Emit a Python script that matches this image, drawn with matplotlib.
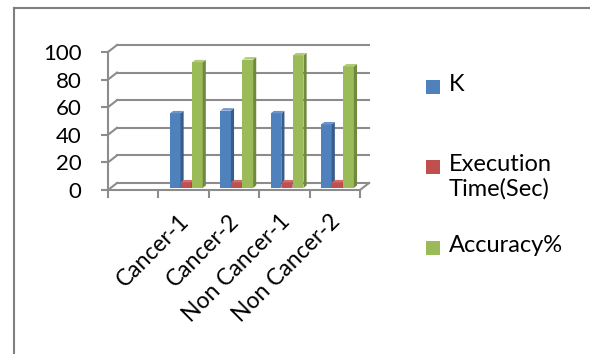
import matplotlib
matplotlib.use("Agg")
import matplotlib.pyplot as plt
from matplotlib.patches import Polygon, Rectangle
from matplotlib.lines import Line2D
import numpy as np

# data (first slot of the category axis is empty in the original)
categories = ["", "Cancer-1", "Cancer-2", "Non Cancer-1", "Non Cancer-2"]
k_vals = [np.nan, 54, 56, 54, 46]
exec_time = [np.nan, 4, 4, 4, 4]
accuracy = [np.nan, 91, 93, 96, 88]
series_names = ["K", "Execution\nTime(Sec)", "Accuracy%"]

front = ["#4F81BD", "#C0504D", "#9BBB59"]
side = ["#385D8A", "#8C3836", "#71893F"]
top = ["#6C95CA", "#CF6E6B", "#B2CB7A"]

plt.rcParams['font.family'] = ['Lato', 'DejaVu Sans']

fig = plt.figure(figsize=(5.9, 3.54), dpi=100)
W, H = 590, 354
# front plane of the 3d box in pixels
x0, x1, y0, y1 = 108, 360, 190, 52
ax = fig.add_axes([x0 / W, 1 - y0 / H, (x1 - x0) / W, (y0 - y1) / H])
n = len(categories)
ax.set_xlim(0, n)
ax.set_ylim(0, 100)

DX = 9 / (x1 - x0) * n      # wall depth in data units
DY = 7 / (y0 - y1) * 100
grid_c = "#8C8C8C"

# back wall grid + side wall diagonals
for v in range(0, 101, 20):
    ax.plot([DX, n + DX], [v + DY, v + DY], color=grid_c, lw=1.5, clip_on=False, zorder=1)
    ax.plot([0, DX], [v, v + DY], color=grid_c, lw=1.5, clip_on=False, zorder=1)
ax.plot([n, n + DX], [0, DY], color=grid_c, lw=1.5, clip_on=False, zorder=1)

# 3d-looking clustered columns
bw = 0.21
bz = 0.3      # bar position in depth (fraction of wall)
bd = 0.35     # bar depth
pos = np.arange(n) + 0.5
for j, vals in enumerate([k_vals, exec_time, accuracy]):
    xs = pos + (j - 1) * 0.22 + bz * DX
    base = bz * DY
    ax.bar(xs, vals, width=bw, bottom=base, color=front[j], edgecolor="none",
           zorder=3, label=series_names[j])
    for xc, v in zip(xs, vals):
        if np.isnan(v):
            continue
        xl, xr = xc - bw / 2, xc + bw / 2
        ddx, ddy = bd * DX, bd * DY
        ax.add_patch(Polygon([[xr, base], [xr + ddx, base + ddy], [xr + ddx, base + v + ddy],
                              [xr, base + v]], closed=True, color=side[j], lw=0,
                             zorder=3, clip_on=False))
        ax.add_patch(Polygon([[xl, base + v], [xr, base + v], [xr + ddx, base + v + ddy],
                              [xl + ddx, base + v + ddy]], closed=True, color=top[j], lw=0,
                             zorder=3, clip_on=False))

# axes styling
for s in ["top", "right"]:
    ax.spines[s].set_visible(False)
for s in ["left", "bottom"]:
    ax.spines[s].set_color(grid_c)
    ax.spines[s].set_linewidth(1.5)
ax.set_yticks(range(0, 101, 20))
ax.tick_params(axis="y", length=5, width=1.5, color=grid_c, pad=14, labelsize=16)
ax.set_xticks(range(0, n + 1))
ax.set_xticklabels([])
ax.tick_params(axis="x", which="major", length=6, width=1.5, color=grid_c)
ax.set_xticks(pos + 0.04, minor=True)
ax.set_xticklabels(categories, minor=True, rotation=45, ha="right", va="center",
                   rotation_mode="anchor", fontsize=16.5)
ax.tick_params(axis="x", which="minor", length=0, pad=20)
ax.set_facecolor("none")

# legend, placed by hand like Excel does
leg_y = [87, 167, 248]
for j, name in enumerate(series_names):
    yc = leg_y[j]
    fig.add_artist(Rectangle((426 / W, 1 - (yc + 7) / H), 14 / W, 14 / H,
                             transform=fig.transFigure, color=front[j], lw=0))
    fig.text(449 / W, 1 - (yc - 13) / H, name, fontsize=17, va="top", ha="left",
             linespacing=1.2)

# chart area border (top and left visible)
fig.add_artist(Line2D([14 / W, 1], [1 - 8 / H, 1 - 8 / H], transform=fig.transFigure,
                      color="#7F7F7F", lw=1.5))
fig.add_artist(Line2D([14 / W, 14 / W], [0, 1 - 8 / H], transform=fig.transFigure,
                      color="#7F7F7F", lw=1.5))

fig.savefig("out.png", dpi=100)
